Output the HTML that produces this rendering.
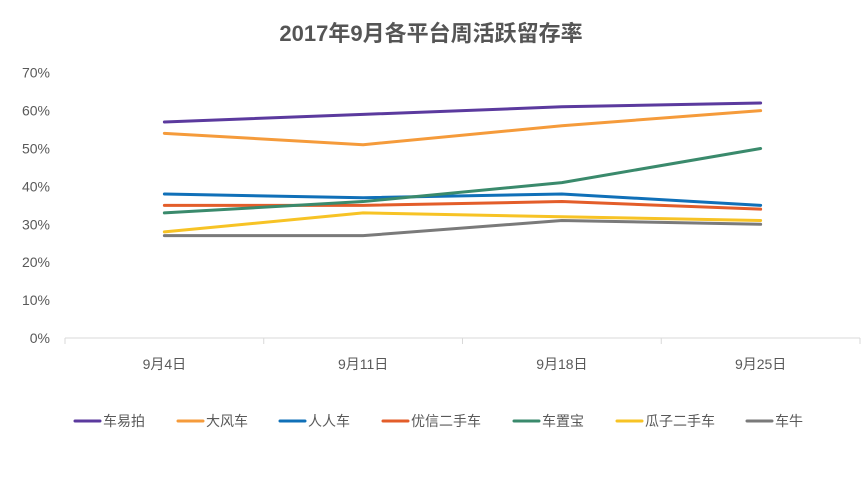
<!DOCTYPE html>
<html><head><meta charset="utf-8"><style>
body{margin:0;background:#fff;font-family:"Liberation Sans","Noto Sans CJK SC",sans-serif;}
svg text{font-family:"Liberation Sans","Noto Sans CJK SC",sans-serif;}
</style></head><body>
<svg id="c" width="862" height="472"></svg>
<script>
const categories=["9月4日","9月11日","9月18日","9月25日"];
const seriesNames=["车易拍","大风车","人人车","优信二手车","车置宝","瓜子二手车","车牛"];
const seriesColors=["#5b3a9e","#f59b3b","#1070b8","#e35d2a","#3a8a6c","#f7c325","#7a7a7a"];
const s0=[57,59,61,62];
const s1=[54,51,56,60];
const s2=[38,37,38,35];
const s3=[35,35,36,34];
const s4=[33,36,41,50];
const s5=[28,33,32,31];
const s6=[27,27,31,30];
const seriesValues=[s0,s1,s2,s3,s4,s5,s6];
const yTicks=[0,10,20,30,40,50,60,70];
const legendX=[75,178,280,383,514,617,747];
const NS="http://www.w3.org/2000/svg";
const svg=document.getElementById('c');
function el(t,a,p){const e=document.createElementNS(NS,t);for(const k in a)e.setAttribute(k,a[k]);(p||svg).appendChild(e);return e;}
const x0=65,x1=860,y0=338,pp=3.79;
const xs=i=>x0+(x1-x0)*(i+0.5)/categories.length;
const ys=v=>y0-v*pp;
let t=el('text',{x:431,y:41,'text-anchor':'middle','font-size':22,'font-weight':'bold',fill:'#555'});
t.textContent="2017年9月各平台周活跃留存率";


yTicks.forEach(v=>{const e=el('text',{x:50,y:ys(v)+5,'text-anchor':'end','font-size':14,fill:'#595959'});e.textContent=v+'%';

});
const ax=el('line',{x1:x0,x2:x1,y1:y0,y2:y0,stroke:'#d9d9d9','stroke-width':1});


for(let i=0;i<=categories.length;i++){const x=x0+(x1-x0)*i/categories.length;el('line',{x1:x,x2:x,y1:y0,y2:y0+6,stroke:'#d9d9d9'});}
categories.forEach((c,i)=>{const e=el('text',{x:xs(i),y:369,'text-anchor':'middle','font-size':14,fill:'#595959'});e.textContent=c;

});
seriesValues.forEach((vals,k)=>{
const p=el('polyline',{points:vals.map((v,i)=>xs(i)+','+ys(v)).join(' '),fill:'none',stroke:seriesColors[k],'stroke-width':3,'stroke-linejoin':'round','stroke-linecap':'round'});


const g=el('g',{});


el('line',{x1:legendX[k],x2:legendX[k]+25,y1:421,y2:421,stroke:seriesColors[k],'stroke-width':3,'stroke-linecap':'round'},g);
const tx=el('text',{x:legendX[k]+28,y:426,'font-size':14,fill:'#595959'},g);tx.textContent=seriesNames[k];
});
</script>
</body></html>
